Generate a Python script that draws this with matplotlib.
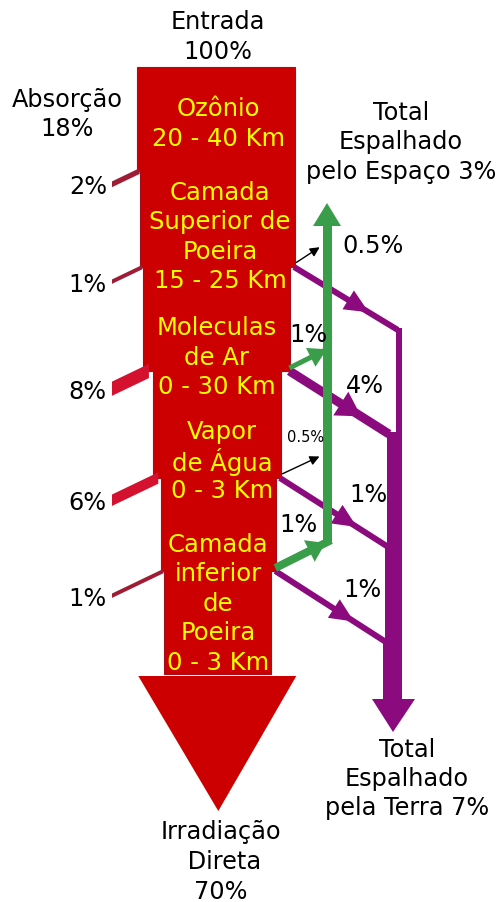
import numpy as np
import matplotlib.pyplot as plt
from matplotlib.patches import Polygon

# camadas da atmosfera (de cima para baixo)
camadas = ['Ozônio\n20 - 40 Km',
           'Camada\nSuperior de\nPoeira\n15 - 25 Km',
           'Moleculas\nde Ar\n0 - 30 Km',
           'Vapor\nde Água\n0 - 3 Km',
           'Camada\ninferior\nde\nPoeira\n0 - 3 Km']
absorcao = [2, 1, 8, 6, 1]          # % absorvido em cada camada
espaco = [0, 0.5, 1, 0.5, 1]        # % espalhado para o espaço
terra = [0, 1, 4, 1, 1]             # % espalhado para a terra

# layout (pixels)
y_saida = [172, 268, 372, 479, 572]
y_texto = [124, 237, 358, 462, 604]
x_texto = [218, 220, 217, 222, 218]
topo, fundo = 68, 675

RED = '#cc0000'
GREEN = '#3a9d4a'
PURPLE = '#8b0a7e'
YEL = '#ffff00'
FS = 17.3

fig = plt.figure(figsize=(4.97, 9.03), dpi=100)
ax = fig.add_axes([0, 0, 1, 1])
ax.set_xlim(0, 497)
ax.set_ylim(903, 0)
ax.axis('off')


def faixa(p0, p1, w, color, head=None, t=0.7, hw=20, hl=22):
    p0 = np.array(p0, float); p1 = np.array(p1, float)
    d = (p1 - p0) / np.linalg.norm(p1 - p0)
    n = np.array([-d[1], d[0]])
    pts = [p0 + n*w/2, p1 + n*w/2, p1 - n*w/2, p0 - n*w/2]
    ax.add_patch(Polygon(pts, closed=True, color=color, lw=0))
    if head:
        tip = p0 + (p1 - p0) * t
        base = tip - d*hl
        ax.add_patch(Polygon([tip, base + n*hw/2, base - n*hw/2], closed=True, color=color, lw=0))


# bordas da barra principal, calculadas dos fluxos
xl = [137.0]
for a in absorcao:
    xl.append(xl[-1] + 1.2*a + 1)
xr = [295.0, 295.0]
for s, t in zip(espaco[1:], terra[1:]):
    xr.append(xr[-1] - (1.4*(s + t) + 2.5))

esq = [(xl[0], topo)]
for i, y in enumerate(y_saida):
    esq += [(xl[i], y), (xl[i+1], y)]
esq.append((xl[-1], fundo))
dir_ = [(xr[0], topo)]
for i, y in enumerate(y_saida[1:], start=1):
    dir_ += [(xr[i], y), (xr[i+1], y)]
dir_.append((xr[-1], fundo))
ax.add_patch(Polygon(esq + dir_[::-1], closed=True, facecolor=RED, edgecolor='#a3101c', lw=0.8))

# ponta da seta principal
xc = (xl[-1] + xr[-1]) / 2
ax.add_patch(Polygon([(xc - 79, fundo + 2), (xc + 79, fundo + 2), (xc + 1, 812)],
                     closed=True, color=RED, lw=0))

# absorcao (lado esquerdo)
for i, a in enumerate(absorcao):
    w = 3 + 1.4*a
    xe = (xl[i] + xl[i+1]) / 2 + 1
    yl = y_saida[i] + 0.48*(xe - 112)
    cor = '#d4112f' if a >= 5 else '#9e1d35'
    pts = [(112, yl - w/2), (xe, y_saida[i] - w/2), (xe, y_saida[i] + w/2), (112, yl + w/2)]
    ax.add_patch(Polygon(pts, closed=True, color=cor, lw=0))
    ax.text(107, yl + 2, f'{a}%', ha='right', va='center', fontsize=FS)

# espalhado para a terra (roxo)
x_roxo = 402
cum = 0
y_prev = None
for i in range(1, 5):
    y0 = y_saida[i]
    x0 = xr[i] - 1
    wv = 4 + 2.2*(cum + terra[i])
    y1 = y0 + 0.6*(x_roxo - wv/2 - x0)
    w = 5 + 1.0*terra[i]
    faixa((x0, y0), (x_roxo - wv + 2, y1), w, PURPLE, head=True, t=0.72,
          hw=20 + 2*terra[i], hl=24)
    if y_prev is not None:
        wp = 4 + 2.2*cum
        ax.add_patch(Polygon([(x_roxo - wp, y_prev), (x_roxo, y_prev), (x_roxo, y1), (x_roxo - wp, y1)],
                             closed=True, color=PURPLE, lw=0))
    cum += terra[i]
    y_prev = y1 - 2
wv = 4 + 2.2*cum
ax.add_patch(Polygon([(x_roxo - wv, y_prev), (x_roxo, y_prev), (x_roxo, 700), (x_roxo - wv, 700)],
                     closed=True, color=PURPLE, lw=0))
ax.add_patch(Polygon([(372, 700), (415, 700), (393, 733)], closed=True, color=PURPLE, lw=0))

# espalhado para o espaco (verde / preto)
x_verde = 327
ax.add_patch(Polygon([(x_verde - 4.5, 545), (x_verde + 4.5, 545), (x_verde + 4.5, 226), (x_verde - 4.5, 226)],
                     closed=True, color=GREEN, lw=0))
ax.add_patch(Polygon([(313, 227), (341, 227), (327, 204)], closed=True, color=GREEN, lw=0))
for i in range(1, 5):
    x0 = xr[i] - 1
    y0 = y_saida[i] - 3
    if espaco[i] < 1:
        ax.annotate('', xy=(x_verde - 5, y0 - 15 - 0.1*(x_verde - x0)), xytext=(x0, y0),
                    arrowprops=dict(arrowstyle='-|>', color='black', lw=1, mutation_scale=14))
    else:
        wg = 5 if i == 2 else 8
        y1 = y0 - 0.5*(x_verde + 4 - x0)
        faixa((x0, y0), (x_verde + 4, y1), wg, GREEN, head=True, t=0.9, hw=16 + wg, hl=18)

# rotulos
ax.text(373, 246, '0.5%', ha='center', va='center', fontsize=FS)
ax.text(308, 335, '1%', ha='center', va='center', fontsize=FS)
ax.text(365, 386, '4%', ha='center', va='center', fontsize=FS)
ax.text(306, 438, '0.5%', ha='center', va='center', fontsize=10.5)
ax.text(368, 495, '1%', ha='center', va='center', fontsize=FS)
ax.text(298, 525, '1%', ha='center', va='center', fontsize=FS)
ax.text(362, 590, '1%', ha='center', va='center', fontsize=FS)


def linhas(txt, x, yc, dy=30, **kw):
    ls = txt.split('\n')
    for k, s in enumerate(ls):
        ax.text(x, yc + (k - (len(ls) - 1)/2)*dy, s, ha='center', va='center', **kw)


for c, x, y in zip(camadas, x_texto, y_texto):
    linhas(c, x, y, dy=29.5, color=YEL, fontsize=17.5)

linhas('Entrada\n100%', 218, 37, fontsize=FS)
linhas('Absorção\n18%', 67, 114, dy=29, fontsize=FS)
linhas('Total\nEspalhado\npelo Espaço 3%', 401, 142, dy=29.5, fontsize=FS)
linhas('Total\nEspalhado\npela Terra 7%', 407, 779, dy=29, fontsize=FS)
linhas('Irradiação\n Direta\n70%', 221, 862, fontsize=FS)

fig.savefig('out.png', dpi=100)
